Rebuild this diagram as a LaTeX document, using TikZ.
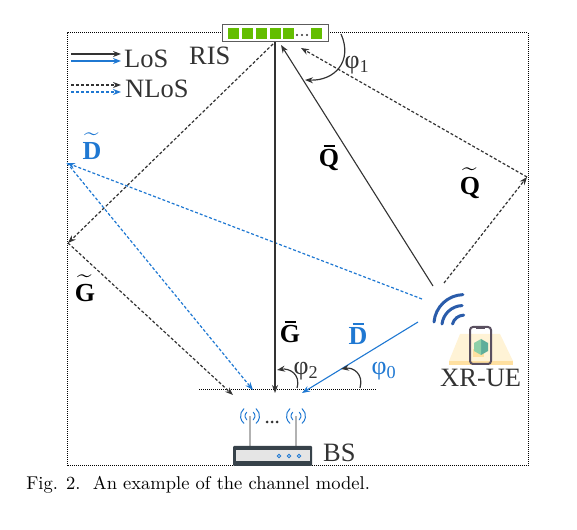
\documentclass[tikz,border=0pt]{standalone}
\usepackage{amsmath,amssymb}
\usepackage{fontspec}
\usepackage{tikz}
\usetikzlibrary{arrows.meta,calc}

\newfontfamily\timesfont{Liberation Serif}
\definecolor{losblack}{HTML}{333333}
\definecolor{losblue}{HTML}{1F78D2}
\definecolor{wifiblue}{HTML}{2A5CAA}
\definecolor{risgreen}{HTML}{63BE00}
\definecolor{bsdark}{HTML}{37424A}
\definecolor{uecream}{HTML}{FFF3D6}
\definecolor{uesand}{HTML}{FFE0A0}
\definecolor{uephone}{HTML}{5A5060}
\definecolor{cubedark}{HTML}{5FAE9A}
\definecolor{cubelight}{HTML}{8ED0A8}
% letter with a mark set above it
\newcommand{\marksym}[3]{\leavevmode\vbox{\offinterlineskip\halign{\hfil##\hfil\cr
    #1\cr\noalign{\kern#2}\hbox{\timesfont\bfseries #3}\cr}}}
\newcommand{\barsym}[1]{\marksym{\rule{11pt}{2.2pt}}{2.5pt}{#1}}
\newcommand{\tildesym}[1]{\marksym{$\widetilde{\hbox to 16pt{}}$}{-9pt}{#1}}

\tikzset{
    los/.style={->, line width=1.1pt, draw=losblack},
    losb/.style={->, line width=1.1pt, draw=losblue},
    nlos/.style={->, line width=1.2pt, draw=losblack, dash pattern=on 3pt off 2pt},
    nlosb/.style={->, line width=1.2pt, draw=losblue, dash pattern=on 3pt off 2pt},
    bigtext/.style={anchor=base west, inner sep=0pt, text=losblack,
        font=\timesfont\fontsize{26.5}{26.5}\selectfont},
    symtext/.style={anchor=base, inner sep=0pt, text=black,
        font=\fontsize{26}{26}\selectfont},
    philabel/.style={inner sep=0pt, text=losblack,
        font=\timesfont\fontsize{26}{26}\selectfont},
    anglearc/.style={->, line width=1.2pt, draw=losblack},
    wave/.style={draw=losblue, line width=1pt, line cap=round},
    wifi/.style={draw=wifiblue, line width=3pt, line cap=round},
}

\begin{document}
\begin{tikzpicture}[x=1pt, y=1pt, >={Stealth[length=8pt,width=6pt]}]
    \useasboundingbox (0,0) rectangle (577,529);

    % frame
    \draw[line width=1pt, dash pattern=on 1pt off 1pt] (67,63) rectangle (528,496);

    % bounce points and end points
    \coordinate (risA) at (273,485);
    \coordinate (risG) at (275,487);
    \coordinate (risQ) at (281,484);
    \coordinate (risT) at (301,481);
    \coordinate (leftG) at (68,286);
    \coordinate (leftD) at (67,366);
    \coordinate (rightQ) at (527,352);
    \coordinate (bsG) at (275,136);
    \coordinate (bsD) at (302,136);
    \coordinate (bsT) at (233,134);
    \coordinate (bsB) at (253,139);
    \coordinate (ueQa) at (433,243);
    \coordinate (ueQb) at (444,246);
    \coordinate (ueDa) at (418,207);
    \coordinate (ueDb) at (422,230);

    % ground line at the BS
    \coordinate (lineL) at (199,139);
    \coordinate (lineR) at (376,139);
    \draw[line width=1pt, dash pattern=on 1pt off 1pt] (lineL) -- (lineR);

    % channels
    \draw[nlos] (risA) -- (leftG);
    \draw[nlos] (leftG) -- (bsT);
    \draw[nlosb] (ueDb) -- (leftD);
    \draw[nlosb] (leftD) -- (bsB);
    \draw[nlos] (ueQb) -- (rightQ);
    \draw[nlos] (rightQ) -- (risT);
    \draw[los] (risG) -- (bsG);
    \draw[los] (ueQa) -- (risQ);
    \draw[losb] (ueDa) -- (bsD);

    % angles
    \draw[anglearc] (341,495) .. controls (353,468) and (335,448) .. (305,449);
    \draw[anglearc] (297,141) .. controls (301,155) and (289,161) .. (277,159);
    \draw[anglearc] (360,141) .. controls (364,155) and (353,162) .. (341,160);
    \node[philabel] (phiA) at (357,464) {φ\textsubscript{1}};
    \node[philabel] (phiB) at (306,158) {φ\textsubscript{2}};
    \node[philabel, text=losblue] (phiC) at (384,158) {φ\textsubscript{0}};

    % RIS
    \draw[draw=losblack!80, fill=white, line width=1pt] (222,487) rectangle (328,504);
    \foreach \x in {228,242,256,270,283,311}
        \fill[risgreen] (\x,490) rectangle ++(11,11);
    \foreach \x in {297,302,307}
        \fill[losblack] (\x,494) circle (1.2);
    \node[bigtext] (risname) at (189,464) {RIS};

    % legend
    \coordinate (legA) at (71,475);
    \coordinate (legAe) at (121,475);
    \coordinate (legB) at (71,468);
    \coordinate (legBe) at (121,468);
    \coordinate (legC) at (71,444);
    \coordinate (legCe) at (121,444);
    \coordinate (legD) at (71,437);
    \coordinate (legDe) at (121,437);
    \draw[los] (legA) -- (legAe);
    \draw[losb] (legB) -- (legBe);
    \draw[nlos] (legC) -- (legCe);
    \draw[nlosb] (legD) -- (legDe);
    \node[bigtext] (loslabel) at (124,461) {LoS};
    \node[bigtext] (nloslabel) at (125,431) {NLoS};

    % channel names
    \node[symtext, text=losblue] (Dt) at (92,369) {\tildesym{D}};
    \node[symtext] (Gt) at (85,227) {\tildesym{G}};
    \node[symtext] (Qt) at (470,334) {\tildesym{Q}};
    \node[symtext] (Qb) at (329,362) {\barsym{Q}};
    \node[symtext] (Gb) at (290,186) {\barsym{G}};
    \node[symtext, text=losblue] (Db) at (358,184) {\barsym{D}};

    % BS
    \foreach \x in {250,296} {
        \draw[draw=black!30, line width=1.2pt] (\x,83) -- (\x,113);
        \draw[wave] ($(\x,113)+(130:9.5)$) arc (130:230:9.5);
        \draw[wave] ($(\x,113)+(130:5)$) arc (130:230:5);
        \draw[wave] ($(\x,113)+(50:9.5)$) arc (50:-50:9.5);
        \draw[wave] ($(\x,113)+(50:5)$) arc (50:-50:5);
    }
    \foreach \x in {267,272,277}
        \fill[losblack] (\x,107) circle (1.5);
    \fill[bsdark, rounded corners=1pt] (233,63) rectangle (312,83);
    \fill[black!10] (236,68) rectangle (310,79);
    \foreach \x in {279,289,299}
        \draw[draw=losblue, line width=0.8pt] (\x,73) circle (1.8);
    \node[bigtext] (bsname) at (323,67) {BS};

    % XR-UE
    \fill[uecream] (460,195) -- (500,195) -- (513,168) -- (449,168) -- cycle;
    \fill[uesand] (449,168) rectangle (513,164);
    \fill[uesand] (473,172) rectangle (484,180);
    \fill[cubedark] (481,190) -- (488,186) -- (488,178) -- (481,174) -- cycle;
    \fill[cubelight] (481,190) -- (474,186) -- (474,178) -- (481,174) -- cycle;
    \draw[draw=uephone, line width=2pt, rounded corners=3pt] (470,165) rectangle (491,202);
    \fill[uephone] (476,202) rectangle (485,200);
    \draw[wifi] (434,207) arc (175:92:30);
    \draw[wifi] (442,205) arc (173:92:21);
    \draw[wifi] (452.5,205) arc (165:92:12);
    \node[bigtext] (uename) at (440,142) {XR-UE};

    % caption
    \node[anchor=base west, inner sep=0pt, transform shape, scale=1.85,
        font=\fontsize{10}{10}\selectfont] (caption)
        at (26,39) {Fig. 2.\ \ An example of the channel model.};
\end{tikzpicture}
\end{document}
